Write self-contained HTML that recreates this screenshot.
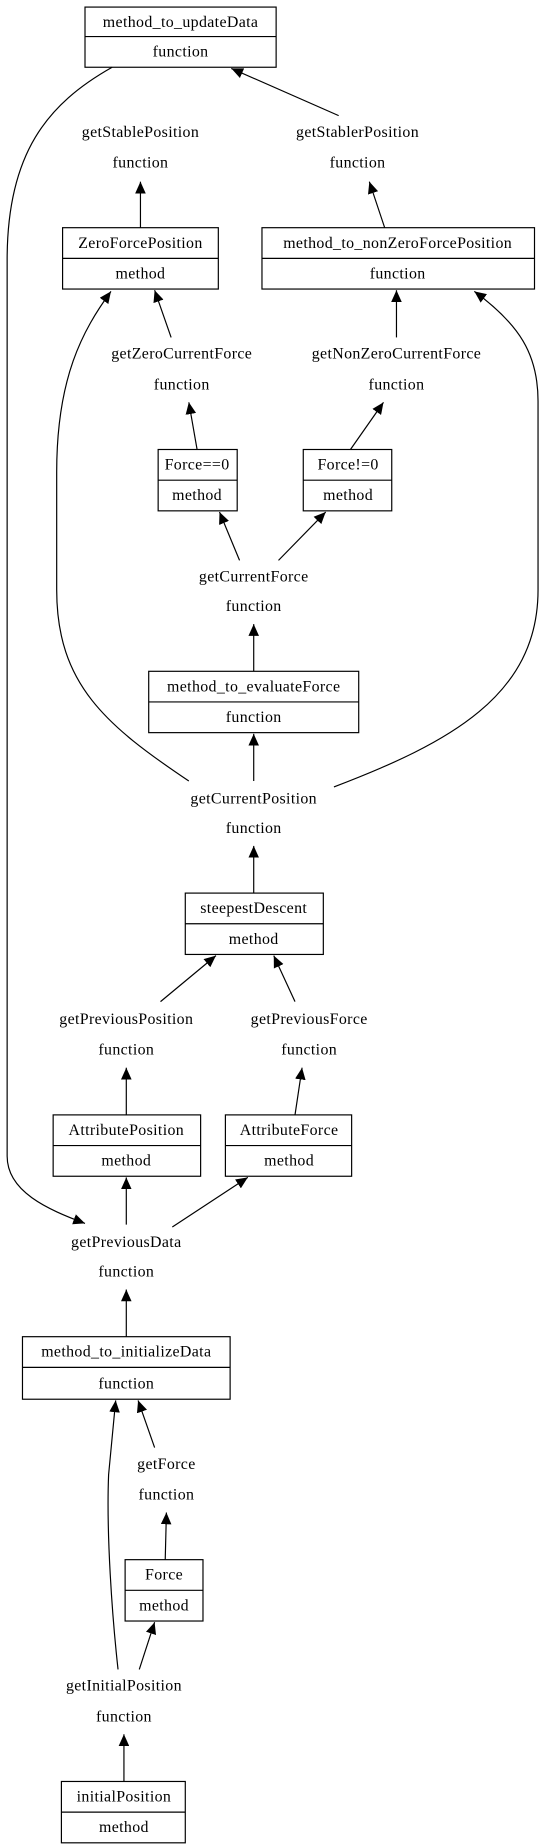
<!DOCTYPE html>
<html><head><meta charset="utf-8"><style>
html,body{margin:0;padding:0;background:#fff;}
svg{display:block;}
text{font-family:"Liberation Serif",serif;font-size:13.5px;letter-spacing:0.3px;fill:#000;text-anchor:middle;}
</style></head><body>
<svg width="544" height="1844" viewBox="0 0 461 1563" xmlns="http://www.w3.org/2000/svg">
<defs>
<marker id="a" markerUnits="userSpaceOnUse" markerWidth="11" markerHeight="9" refX="10" refY="4.5" orient="auto">
<path d="M0,0 L10,4.5 L0,9 Z" fill="#000"/>
</marker>
</defs>
<g fill="none" stroke="#000" stroke-width="1">
<rect x="72" y="6" width="162" height="51"/><line x1="72" y1="31" x2="234" y2="31"/>
<rect x="53" y="193" width="132" height="52"/><line x1="53" y1="219" x2="185" y2="219"/>
<rect x="222" y="193" width="231" height="52"/><line x1="222" y1="219" x2="453" y2="219"/>
<rect x="134" y="381" width="67" height="52"/><line x1="134" y1="407" x2="201" y2="407"/>
<rect x="257" y="381" width="75" height="52"/><line x1="257" y1="407" x2="332" y2="407"/>
<rect x="126" y="569" width="178" height="52"/><line x1="126" y1="595" x2="304" y2="595"/>
<rect x="157" y="757" width="117" height="52"/><line x1="157" y1="783" x2="274" y2="783"/>
<rect x="45" y="945" width="125" height="52"/><line x1="45" y1="971" x2="170" y2="971"/>
<rect x="191" y="945" width="107" height="52"/><line x1="191" y1="971" x2="298" y2="971"/>
<rect x="19" y="1133" width="176" height="53"/><line x1="19" y1="1159" x2="195" y2="1159"/>
<rect x="106" y="1322" width="66" height="52"/><line x1="106" y1="1348" x2="172" y2="1348"/>
<rect x="52" y="1510" width="105" height="52"/><line x1="52" y1="1536" x2="157" y2="1536"/>
<g marker-end="url(#a)">
<path d="M287,98 L196,58"/>
<path d="M95,57 C40,88 6,130 6,220 L6,980 C6,1010 40,1025 72,1037"/>
<path d="M119,193 L119,154"/>
<path d="M326,193 L313,154"/>
<path d="M145,286 L131,246"/>
<path d="M336,286 L336,246"/>
<path d="M167,381 L160,341"/>
<path d="M297,381 L325,341"/>
<path d="M203,475 L186,434"/>
<path d="M236,475 L276,434"/>
<path d="M215,569 L215,529"/>
<path d="M215,662 L215,622"/>
<path d="M160,662 C90,615 48,580 48,500 L48,400 C48,320 70,280 94,247"/>
<path d="M283,667 C380,630 456,590 456,500 L456,340 C456,300 440,275 402,247"/>
<path d="M215,757 L215,717"/>
<path d="M136,849 L183,810"/>
<path d="M250,849 L232,810"/>
<path d="M107,945 L107,905"/>
<path d="M250,945 L256,905"/>
<path d="M107,1038 L107,998"/>
<path d="M146,1040 L210,998"/>
<path d="M107,1133 L107,1093"/>
<path d="M131,1227 L117,1187"/>
<path d="M140,1322 L141,1282"/>
<path d="M100,1415 C95,1370 90,1300 92,1250 L98,1187"/>
<path d="M118,1415 L131,1375"/>
<path d="M105,1510 L105,1470"/>
</g>
</g>
<g>
<text x="153" y="23">method_to_updateData</text><text x="153" y="48">function</text>
<text x="119" y="116">getStablePosition</text><text x="119" y="142">function</text>
<text x="303" y="116">getStablerPosition</text><text x="303" y="142">function</text>
<text x="119" y="210">ZeroForcePosition</text><text x="119" y="236">method</text>
<text x="337" y="210">method_to_nonZeroForcePosition</text><text x="337" y="236">function</text>
<text x="154" y="304">getZeroCurrentForce</text><text x="154" y="330">function</text>
<text x="336" y="304">getNonZeroCurrentForce</text><text x="336" y="330">function</text>
<text x="167" y="398">Force==0</text><text x="167" y="424">method</text>
<text x="295" y="398">Force!=0</text><text x="295" y="424">method</text>
<text x="215" y="493">getCurrentForce</text><text x="215" y="518">function</text>
<text x="215" y="586">method_to_evaluateForce</text><text x="215" y="612">function</text>
<text x="215" y="681">getCurrentPosition</text><text x="215" y="706">function</text>
<text x="215" y="774">steepestDescent</text><text x="215" y="800">method</text>
<text x="107" y="868">getPreviousPosition</text><text x="107" y="894">function</text>
<text x="262" y="868">getPreviousForce</text><text x="262" y="894">function</text>
<text x="107" y="962">AttributePosition</text><text x="107" y="988">method</text>
<text x="245" y="962">AttributeForce</text><text x="245" y="988">method</text>
<text x="107" y="1057">getPreviousData</text><text x="107" y="1082">function</text>
<text x="107" y="1150">method_to_initializeData</text><text x="107" y="1177">function</text>
<text x="141" y="1245">getForce</text><text x="141" y="1271">function</text>
<text x="139" y="1339">Force</text><text x="139" y="1365">method</text>
<text x="105" y="1433">getInitialPosition</text><text x="105" y="1459">function</text>
<text x="105" y="1527">initialPosition</text><text x="105" y="1553">method</text>
</g>
</svg>
</body></html>
